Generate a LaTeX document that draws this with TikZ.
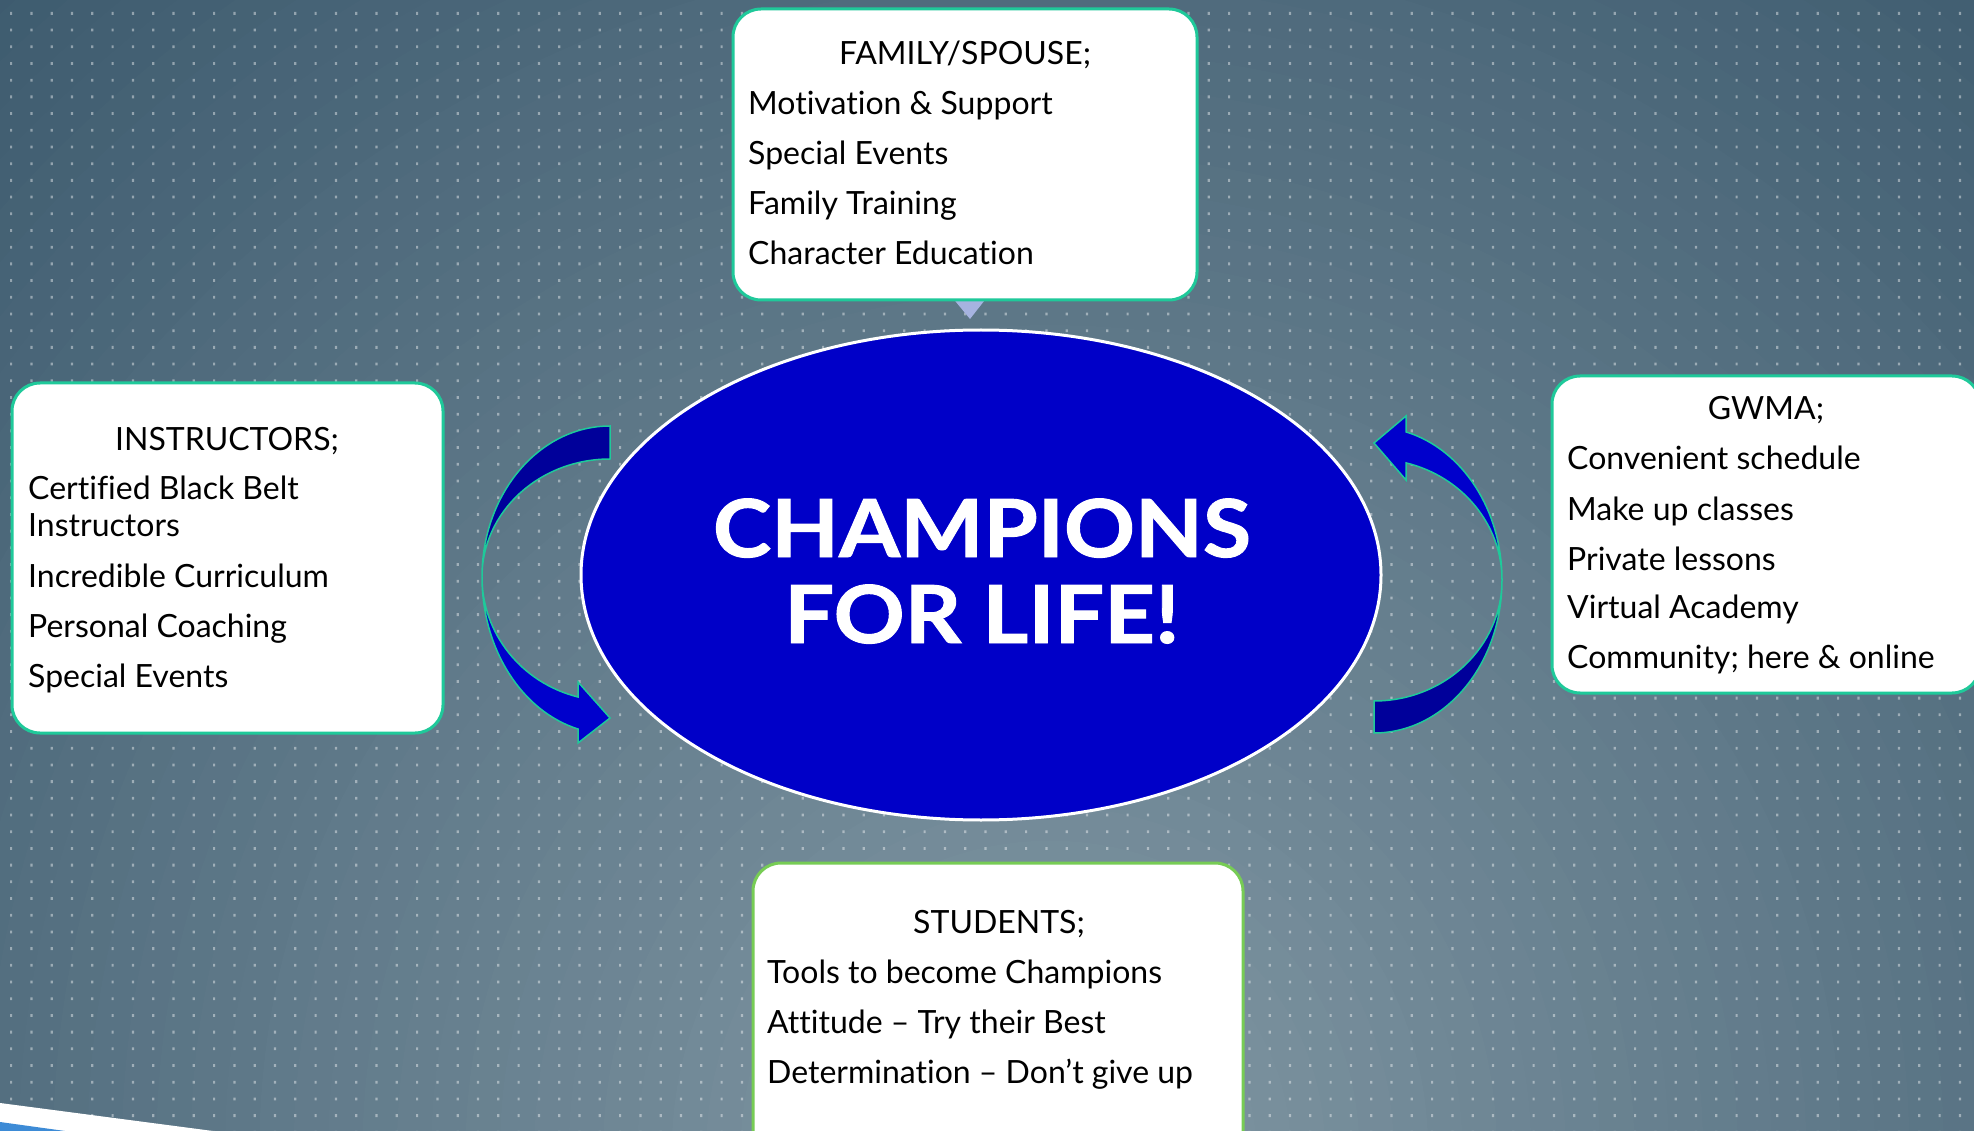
\documentclass[tikz,border=0pt]{standalone}
\usepackage{fontspec}
\setmainfont{Lato}[Ligatures=NoCommon]
\newfontfamily\titlefont{Lato}[FakeStretch=1.1, FakeBold=1.2]
\usetikzlibrary{shapes.geometric}
\definecolor{bgdark}{HTML}{3A586C}
\definecolor{bglight}{HTML}{8298A4}
\definecolor{boxteal}{HTML}{1FC99A}
\definecolor{boxgreen}{HTML}{77CC55}
\definecolor{ellblue}{HTML}{0000C8}
\definecolor{arrdark}{HTML}{00009A}
\definecolor{arrbright}{HTML}{0000CC}
\definecolor{tripale}{HTML}{A6B3E0}
\definecolor{stripeblue}{HTML}{3D8BD6}
\begin{document}
\begin{tikzpicture}[x=1pt,y=1pt,
  infobox/.style={draw=boxteal, line width=3pt, fill=white, rounded corners=28pt, inner sep=0pt},
  headtxt/.style={anchor=base, font=\fontsize{32}{37}\selectfont, inner sep=0pt},
  itemtxt/.style={anchor=base west, font=\fontsize{32}{37}\selectfont, inner sep=0pt},
  titletxt/.style={anchor=base, text=white, font=\titlefont\bfseries\fontsize{80}{86}\selectfont, inner sep=0pt},
  arrowshape/.style={draw=boxteal, line width=1.5pt, line join=miter}]
\useasboundingbox (0,-1131) rectangle (1974,0);
\clip (0,-1131) rectangle (1974,0);
% background: stepped radial gradient
\fill[bgdark] (0,-1131) rectangle (1974,0);
\foreach \k in {0,...,47} {
  \pgfmathtruncatemacro{\pct}{100*(48-\k)/48}
  \pgfmathsetmacro{\rad}{34.375*(48-\k)}
  \fill[bgdark!\pct!bglight] (1050,-1150) circle[radius=\rad pt];
}
\foreach \j in {0,...,67} {
  \fill[white, opacity=0.42] \foreach \i in {0,...,96} { (10+20.3*\i,-12-16.7*\j) rectangle ++(2.2,-2.8) };
}
% bottom-left stripes
\fill[white] (0,-1103) -- (213,-1131) -- (0,-1131) -- cycle;
\fill[stripeblue] (0,-1122) -- (65,-1131) -- (0,-1131) -- cycle;
% pointer triangle under top box
\fill[tripale] (951,-296) -- (988,-296) -- (970,-319) -- cycle;
% central ellipse
\node[ellipse, draw=white, line width=3pt, fill=ellblue, minimum width=800pt, minimum height=490pt, inner sep=0pt] (core) at (981,-575) {};
\node[titletxt] (t1) at (982,-557) {CHAMPIONS};
\node[titletxt] (t2) at (982,-643) {FOR LIFE!};
% left curved arrow
\draw[arrowshape, fill=arrdark] (610,-426) arc[start angle=90, end angle=180, x radius=128pt, y radius=151pt]
   arc[start angle=180, end angle=90, x radius=128pt, y radius=118pt] -- cycle;
\draw[arrowshape, fill=arrbright] (482,-577) arc[start angle=180, end angle=255.52, x radius=128pt, y radius=157pt]
   -- (578,-743) -- (610,-718) -- (578,-682) -- (578,-697)
   arc[start angle=255.52, end angle=180, x radius=128pt, y radius=124pt] -- cycle;
% right curved arrow
\draw[arrowshape, fill=arrbright] (1374,-443) -- (1406,-416) -- (1406,-431.9)
   arc[start angle=75.52, end angle=0, x radius=128pt, y radius=153pt]
   arc[start angle=0, end angle=75.52, x radius=128pt, y radius=121pt]
   -- (1406,-480) -- cycle;
\draw[arrowshape, fill=arrdark] (1502,-580) arc[start angle=0, end angle=-90, x radius=128pt, y radius=153pt]
   -- (1374,-701) arc[start angle=-90, end angle=0, x radius=128pt, y radius=121pt] -- cycle;
% top box
\node[infobox, minimum width=464pt, minimum height=291pt] (family) at (965,-154.5) {};
\node[headtxt] (familyh) at (965,-65) {FAMILY/SPOUSE;};
\node[itemtxt] (f1) at (748,-115) {Motivation \& Support};
\node[itemtxt] (f2) at (748,-165) {Special Events};
\node[itemtxt] (f3) at (748,-215) {Family Training};
\node[itemtxt] (f4) at (748,-265) {Character Education};
% left box
\node[infobox, minimum width=431pt, minimum height=350pt] (instr) at (227.5,-558) {};
\node[headtxt] (instrh) at (227,-450) {INSTRUCTORS;};
\node[itemtxt] (i1) at (28,-500) {Certified Black Belt};
\node[itemtxt] (i1b) at (28,-536) {Instructors};
\node[itemtxt] (i2) at (28,-587) {Incredible Curriculum};
\node[itemtxt] (i3) at (28,-637) {Personal Coaching};
\node[itemtxt] (i4) at (28,-687) {Special Events};
% right box
\node[infobox, minimum width=428pt, minimum height=317pt] (gwma) at (1766,-534.5) {};
\node[headtxt] (gwmah) at (1766,-420) {GWMA;};
\node[itemtxt] (g1) at (1567,-470) {Convenient schedule};
\node[itemtxt] (g2) at (1567,-520) {Make up classes};
\node[itemtxt] (g3) at (1567,-570) {Private lessons};
\node[itemtxt] (g4) at (1567,-618) {Virtual Academy};
\node[itemtxt] (g5) at (1567,-668) {Community; here \& online};
% bottom box
\node[infobox, draw=boxgreen, minimum width=490pt, minimum height=297pt] (students) at (998,-1011.5) {};
\node[headtxt] (studh) at (999,-933) {STUDENTS;};
\node[itemtxt] (s1) at (767,-983) {Tools to become Champions};
\node[itemtxt] (s2) at (767,-1033) {Attitude – Try their Best};
\node[itemtxt] (s3) at (767,-1083) {Determination – Don’t give up};
\end{tikzpicture}
\end{document}
